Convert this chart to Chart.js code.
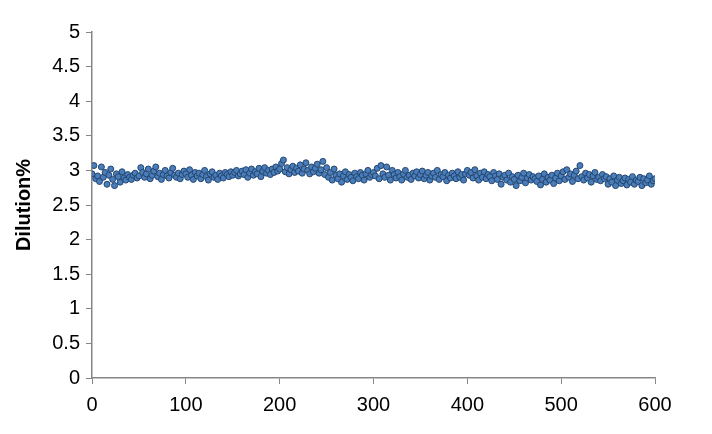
<!DOCTYPE html>
<html>
<head>
    <title>Dilution%</title>
    <script src="https://cdn.jsdelivr.net/npm/chart.js@4.4.2/dist/chart.umd.min.js"></script>
    <style>
        html, body {
            margin: 0;
            background: #fff;
        }
        #chart-container {
            width: 712px;
            height: 434px;
        }
    </style>
</head>
<body>
    <div id="chart-container">
        <canvas id="dilutionChart" width="712" height="434"></canvas>
    </div>
    <script>
        // x positions: every 2 units from 0 to 600
        const xStep = 2;
        const xMax = 600;

        // dilution %, in blocks of 50 units
        const dilution0 = [2.95,3.07,2.88,2.92,2.84,3.05,2.90,2.97,2.80,2.93,3.02,2.87,2.78,2.95,2.91,2.83,2.98,2.89,2.86,2.94,2.90,2.87,2.93,2.96,2.89];
        const dilution50 = [2.92,3.04,2.97,2.90,2.95,3.02,2.88,2.93,2.99,3.05,2.91,2.96,2.87,2.94,3.00,2.92,2.89,2.97,3.03,2.93,2.90,2.96,2.88,2.94,2.99];
        const dilution100 = [2.95,2.90,3.01,2.93,2.87,2.97,2.92,2.96,2.88,2.94,3.00,2.91,2.86,2.95,2.98,2.90,2.93,2.87,2.96,2.92,2.89,2.97,2.94,2.91,2.98];
        const dilution150 = [2.93,2.97,3.00,2.92,2.95,2.99,2.94,3.01,2.90,2.96,3.02,2.93,2.98,2.95,3.03,2.91,2.99,3.04,2.96,3.00,2.94,3.02,2.97,3.05,2.99];
        const dilution200 = [3.02,3.10,3.15,2.98,3.04,2.95,3.01,3.06,2.97,3.03,2.99,3.08,2.96,3.02,3.11,3.00,2.95,3.05,2.98,3.03,3.09,2.96,3.01,3.13,2.94];
        const dilution250 = [3.04,2.90,2.97,2.86,3.02,2.93,2.88,2.95,2.83,2.92,2.98,2.87,2.94,2.90,2.85,2.96,2.91,2.88,2.97,2.93,2.86,2.95,3.00,2.90,2.94];
        const dilution300 = [2.97,2.92,3.03,2.88,3.07,2.95,2.90,3.05,2.93,2.86,3.00,2.94,2.89,2.97,2.91,2.86,2.95,3.00,2.90,2.93,2.87,2.96,2.92,2.98,2.89];
        const dilution350 = [2.94,2.99,2.88,2.93,2.97,2.86,2.92,2.96,2.90,3.00,2.87,2.94,2.91,2.97,2.85,2.93,2.89,2.96,2.92,2.88,2.98,2.90,2.94,2.86,2.95];
        const dilution400 = [3.00,2.93,2.97,2.89,3.01,2.92,2.86,2.96,2.90,2.98,2.88,2.94,2.91,2.85,2.97,2.92,2.87,2.95,2.80,2.90,2.93,2.86,2.96,2.83,2.91];
        const dilution450 = [2.87,2.78,2.93,2.85,2.90,2.96,2.82,2.89,2.94,2.86,2.91,2.88,2.84,2.92,2.79,2.87,2.95,2.83,2.90,2.86,2.93,2.81,2.89,2.96,2.85];
        const dilution500 = [2.92,2.98,2.87,3.01,2.90,2.95,2.84,2.93,2.99,2.88,3.07,2.91,2.86,2.96,2.89,2.94,2.83,2.92,2.97,2.87,2.90,2.85,2.94,2.88,2.91];
        const dilution550 = [2.80,2.88,2.83,2.92,2.78,2.86,2.90,2.81,2.85,2.89,2.79,2.87,2.83,2.91,2.80,2.86,2.84,2.90,2.78,2.88,2.82,2.86,2.92,2.80,2.85,2.88];

        const dilution = [].concat(dilution0, dilution50, dilution100, dilution150,
            dilution200, dilution250, dilution300, dilution350, dilution400,
            dilution450, dilution500, dilution550);

        const points = dilution.map((v, i) => ({ x: i * xStep, y: v }));

        const axisColor = '#868686';
        const fontFamily = '"Liberation Sans", Arial, sans-serif';

        const ctx = document.getElementById('dilutionChart').getContext('2d');
        new Chart(ctx, {
            type: 'scatter',
            data: {
                datasets: [{
                    label: 'Dilution%',
                    data: points,
                    backgroundColor: '#4a7ebb',
                    borderColor: '#24456f',
                    borderWidth: 1,
                    pointRadius: 3,
                }]
            },
            options: {
                responsive: false,
                animation: false,
                layout: {
                    padding: { top: 32, right: 57, left: 12, bottom: 0 }
                },
                scales: {
                    x: {
                        type: 'linear',
                        min: 0,
                        max: xMax,
                        ticks: {
                            stepSize: 100,
                            color: '#000',
                            font: { family: fontFamily, size: 20 },
                            padding: 9,
                            maxRotation: 0,
                        },
                        grid: {
                            drawOnChartArea: false,
                            drawTicks: true,
                            tickLength: 6,
                            color: axisColor,
                        },
                        border: { color: axisColor, width: 1.5 },
                        afterFit: function (scale) { scale.height = 56; }
                    },
                    y: {
                        min: 0,
                        max: 5,
                        ticks: {
                            stepSize: 0.5,
                            color: '#000',
                            font: { family: fontFamily, size: 20 },
                            padding: 6,
                            callback: value => String(value),
                        },
                        grid: {
                            drawOnChartArea: false,
                            drawTicks: true,
                            tickLength: 6,
                            color: axisColor,
                        },
                        border: { color: axisColor, width: 1.5 },
                        title: {
                            display: true,
                            text: 'Dilution%',
                            color: '#000',
                            font: { family: fontFamily, size: 20, weight: 'bold' },
                            padding: 0,
                        },
                        afterFit: function (scale) { scale.width = 80; }
                    }
                },
                plugins: {
                    legend: { display: false },
                    tooltip: { enabled: false }
                }
            }
        });
    </script>
</body>
</html>
